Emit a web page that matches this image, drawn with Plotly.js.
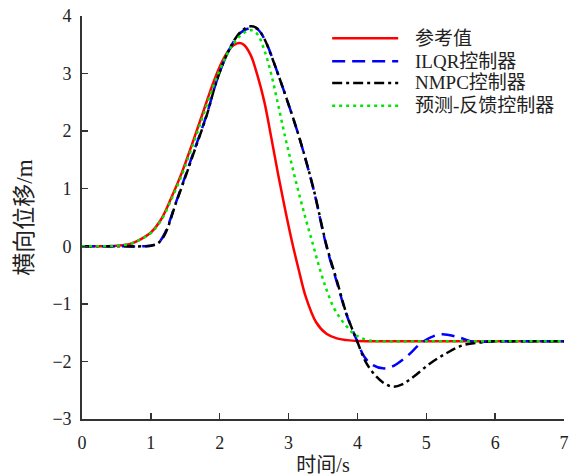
<!DOCTYPE html>
<html>
<head>
<meta charset="utf-8">
<script src="https://cdn.plot.ly/plotly-3.0.1.min.js"></script>
<style>html,body{margin:0;padding:0;background:#fff;}#chart{width:574px;height:476px;}</style>
</head>
<body>
<div id="chart"></div>
<script>
// Series names
const seriesNames = ["参考值", "ILQR控制器", "NMPC控制器", "预测-反馈控制器"];

// Reference (参考值)
const refX = [0, 0.3, 0.5, 0.7, 0.85, 1.0, 1.15, 1.3, 1.45, 1.6, 1.75, 1.9, 2.0, 2.1, 2.2, 2.28, 2.35, 2.45, 2.55, 2.65, 2.75, 2.85, 2.95, 3.05, 3.15, 3.25, 3.4, 3.55, 3.7, 3.85, 4.0, 4.5, 5, 5.5, 6, 6.5, 7];
const refY = [0, 0, 0.01, 0.04, 0.12, 0.24, 0.47, 0.85, 1.28, 1.78, 2.3, 2.82, 3.12, 3.35, 3.49, 3.53, 3.5, 3.32, 2.96, 2.5, 1.88, 1.24, 0.64, 0.08, -0.42, -0.88, -1.32, -1.52, -1.6, -1.63, -1.645, -1.65, -1.65, -1.65, -1.65, -1.65, -1.65];

// ILQR
const ilqrX = [0, 0.5, 0.9, 1.0, 1.1, 1.2, 1.37, 1.5, 1.61, 1.81, 1.95, 2.1, 2.25, 2.35, 2.45, 2.55, 2.65, 2.73, 2.85, 2.97, 3.16, 3.36, 3.55, 3.7, 3.84, 3.99, 4.1, 4.22, 4.37, 4.5, 4.71, 4.95, 5.2, 5.44, 5.68, 5.85, 6.0, 6.5, 7];
const ilqrY = [0, 0, 0, 0.01, 0.05, 0.22, 0.78, 1.22, 1.6, 2.28, 2.85, 3.32, 3.64, 3.75, 3.79, 3.77, 3.6, 3.38, 2.98, 2.57, 1.87, 1.0, 0.0, -0.62, -1.18, -1.63, -1.92, -2.06, -2.12, -2.09, -1.92, -1.66, -1.53, -1.57, -1.66, -1.66, -1.65, -1.65, -1.65];

// NMPC
const nmpcX = [0, 0.5, 0.9, 1.0, 1.1, 1.2, 1.37, 1.5, 1.61, 1.81, 1.95, 2.1, 2.25, 2.35, 2.45, 2.55, 2.65, 2.73, 2.85, 2.97, 3.16, 3.36, 3.55, 3.7, 3.84, 3.99, 4.13, 4.28, 4.4, 4.52, 4.65, 4.81, 5.05, 5.29, 5.53, 5.78, 6.0, 6.5, 7];
const nmpcY = [0, 0, 0, 0.01, 0.05, 0.2, 0.77, 1.2, 1.58, 2.27, 2.85, 3.32, 3.65, 3.77, 3.82, 3.78, 3.6, 3.37, 2.98, 2.57, 1.87, 1.01, 0.02, -0.59, -1.17, -1.63, -2.03, -2.27, -2.39, -2.44, -2.4, -2.27, -2.04, -1.86, -1.72, -1.67, -1.65, -1.65, -1.65];

// 预测-反馈
const pfX = [0, 0.3, 0.5, 0.7, 0.85, 1.0, 1.15, 1.3, 1.45, 1.6, 1.75, 1.9, 2.0, 2.1, 2.2, 2.3, 2.4, 2.47, 2.55, 2.65, 2.75, 2.85, 2.95, 3.05, 3.15, 3.25, 3.35, 3.45, 3.55, 3.65, 3.75, 3.85, 3.95, 4.05, 4.15, 4.3, 5, 6, 7];
const pfY = [0, 0, 0.01, 0.04, 0.12, 0.23, 0.45, 0.82, 1.24, 1.73, 2.24, 2.76, 3.06, 3.32, 3.52, 3.66, 3.74, 3.75, 3.68, 3.4, 2.98, 2.45, 1.9, 1.4, 0.92, 0.47, 0.05, -0.38, -0.75, -1.05, -1.25, -1.4, -1.52, -1.59, -1.63, -1.65, -1.65, -1.65, -1.65];

// Axis ticks
const xTicks = [0, 1, 2, 3, 4, 5, 6, 7];
const yTicks = [-3, -2, -1, 0, 1, 2, 3, 4];

const colors = ["#ff0000", "#0000ff", "#000000", "#00e600"];
const dashes = ["solid", "13px,7px", "10px,4px,3px,4px", "3px,4px"];
const xs = [refX, ilqrX, nmpcX, pfX];
const ys = [refY, ilqrY, nmpcY, pfY];

const traces = seriesNames.map((n, i) => ({
  x: xs[i], y: ys[i], name: n, type: "scatter", mode: "lines",
  line: {color: colors[i], width: 2.5, dash: dashes[i], shape: "spline", smoothing: 1},
  showlegend: false
}));

const font = "Liberation Serif, Noto Sans CJK SC, serif";

// Manual legend
const legY = [0.945, 0.888, 0.834, 0.777];
const shapes = seriesNames.map((n, i) => ({
  type: "line", xref: "paper", yref: "paper",
  x0: 0.519, x1: 0.656, y0: legY[i], y1: legY[i],
  line: {color: colors[i], width: 2.5, dash: dashes[i]}
}));
const annotations = seriesNames.map((n, i) => ({
  xref: "paper", yref: "paper", x: 0.687, y: legY[i],
  xanchor: "left", yanchor: "middle", text: n, showarrow: false,
  font: {family: font, size: 19, color: "#222"}
}));

const layout = {
  width: 574, height: 476,
  margin: {l: 82, r: 10, t: 16, b: 57},
  paper_bgcolor: "#fff", plot_bgcolor: "#fff",
  font: {family: font, size: 16, color: "#222"},
  xaxis: {
    range: [0, 7], tickvals: xTicks, ticks: "inside", ticklen: 6, tickwidth: 1.5,
    tickcolor: "#333", showline: true, linecolor: "#333", linewidth: 1.8,
    showgrid: false, zeroline: false, mirror: false, ticklabelstandoff: 7,
    tickfont: {family: font, size: 18, color: "#222"},
    title: {text: "时间/s", font: {family: font, size: 20, color: "#222"}, standoff: 6}
  },
  yaxis: {
    range: [-3, 4], tickvals: yTicks, ticks: "inside", ticklen: 6, tickwidth: 1.5,
    tickcolor: "#333", showline: true, linecolor: "#333", linewidth: 1.8,
    showgrid: false, zeroline: false, mirror: false, ticklabelstandoff: 5,
    tickfont: {family: font, size: 18, color: "#222"},
    title: {text: "横向位移/m", font: {family: font, size: 23, color: "#222"}, standoff: 13}
  },
  shapes: shapes,
  annotations: annotations,
  showlegend: false
};

Plotly.newPlot("chart", traces, layout, {displayModeBar: false, staticPlot: true});
</script>
</body>
</html>
